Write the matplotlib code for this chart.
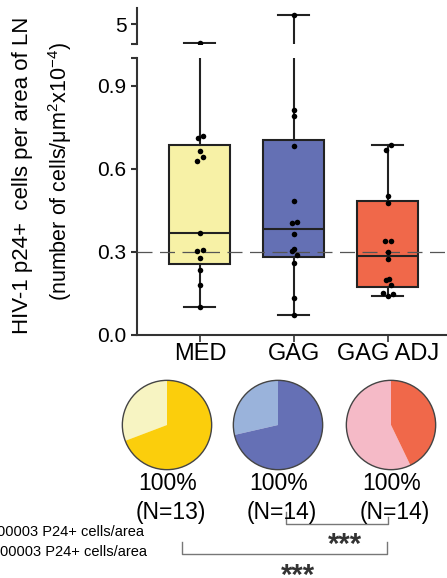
import matplotlib
matplotlib.use("Agg")
import matplotlib.pyplot as plt
from matplotlib.patches import Circle

plt.rcParams['font.family'] = ['Liberation Sans', 'DejaVu Sans']
plt.rcParams['mathtext.fontset'] = 'custom'
plt.rcParams['mathtext.rm'] = 'Liberation Sans'
plt.rcParams['mathtext.it'] = 'Liberation Sans:italic'

# ---------------- data ----------------
categories = ["MED", "GAG", "GAG ADJ"]
med_vals = [3.1, 0.712, 0.720, 0.665, 0.643, 0.629, 0.370, 0.305, 0.307, 0.277, 0.235, 0.180, 0.100]
gag_vals = [5.9, 0.813, 0.791, 0.681, 0.485, 0.406, 0.407, 0.364, 0.305, 0.310, 0.288, 0.261, 0.134, 0.073]
adj_vals = [0.687, 0.669, 0.502, 0.478, 0.340, 0.339, 0.301, 0.275, 0.199, 0.202, 0.180, 0.151, 0.148, 0.141]
med_jitter = [0, -0.02, 0.03, 0, 0.03, -0.03, 0, -0.035, 0.035, 0, 0, 0, 0]
gag_jitter = [0, 0, 0, 0, 0, -0.025, 0.03, 0, -0.025, 0, 0.03, 0, 0, 0]
adj_jitter = [0.03, -0.02, 0, 0, -0.03, 0.03, 0, 0, -0.02, 0.01, 0.03, -0.05, 0.06, 0]

box_q1 = [0.257, 0.282, 0.175]
box_med = [0.370, 0.384, 0.287]
box_q3 = [0.687, 0.705, 0.482]
whis_lo = [0.100, 0.073, 0.141]
whis_hi = [3.1, 5.9, 0.687]
threshold = 0.3

pie_low = [4, 4, 8]
pie_high = [9, 10, 6]
pie_pct = ["100%", "100%", "100%"]
pie_n = ["(N=13)", "(N=14)", "(N=14)"]
legend_labels = ["< 0.00003 P24+ cells/area", "> 0.00003 P24+ cells/area"]
sig_label = "***"

box_colors = ["#F7F1A6", "#6470B4", "#F0684A"]
pie_light = ["#F7F4C2", "#9AB3DB", "#F5BAC7"]
pie_dark = ["#FBCE0C", "#6570B5", "#F0684A"]

# ---------------- figure ----------------
W, H = 447, 578
fig = plt.figure(figsize=(W / 100, H / 100), dpi=100)

def fx(px):
    return px / W

def fy(py):
    return 1 - py / H

ax_lo = fig.add_axes([fx(137), fy(335), 1 - fx(137), fy(58) - fy(335)])
ax_hi = fig.add_axes([fx(137), fy(44), 1 - fx(137), fy(8) - fy(44)])

positions = [1, 2, 3]
stats = []
for i, c in enumerate(categories):
    stats.append(dict(med=box_med[i], q1=box_q1[i], q3=box_q3[i],
                      whislo=whis_lo[i], whishi=whis_hi[i], fliers=[], label=c))

all_vals = [med_vals, gag_vals, adj_vals]
all_jit = [med_jitter, gag_jitter, adj_jitter]
spine_c = "#333333"

for ax in (ax_lo, ax_hi):
    bp = ax.bxp(stats, positions=positions, widths=0.65, patch_artist=True,
                showfliers=False,
                boxprops=dict(edgecolor="#222222", linewidth=1.5),
                medianprops=dict(color="#222222", linewidth=1.5),
                whiskerprops=dict(color="#222222", linewidth=1.5),
                capprops=dict(color="#222222", linewidth=1.5),
                capwidths=0.33)
    for patch, col in zip(bp['boxes'], box_colors):
        patch.set_facecolor(col)
        patch.set_zorder(2)
    ax.axhline(threshold, color="#555555", linewidth=0.9, dashes=(12, 6), zorder=3)
    for i, (vals, jit) in enumerate(zip(all_vals, all_jit)):
        xs = [positions[i] + j for j in jit]
        ax.scatter(xs, vals, s=16, color="black", zorder=5, linewidths=0)
    ax.set_xlim(0.33, 3.63)
    for s in ("top", "right"):
        ax.spines[s].set_visible(False)
    ax.spines["left"].set_color(spine_c)
    ax.spines["left"].set_linewidth(1.5)
    ax.tick_params(axis="y", labelsize=15, width=1.5, length=4, color=spine_c)

ax_lo.set_ylim(0, 1.0)
ax_lo.set_yticks([0.0, 0.3, 0.6, 0.9, 1.0])
ax_lo.set_yticklabels(["0.0", "0.3", "0.6", "0.9", ""])
ax_lo.spines["bottom"].set_color(spine_c)
ax_lo.spines["bottom"].set_linewidth(1.5)
ax_lo.set_xticks(positions)
ax_lo.set_xticklabels(categories)
ax_lo.tick_params(axis="x", labelsize=17, width=1.2, length=5, color=spine_c, pad=1)

ax_hi.set_ylim(3.0, 6.6)
ax_hi.set_yticks([3.0, 5.0])
ax_hi.set_yticklabels(["", "5"])
ax_hi.spines["bottom"].set_visible(False)
ax_hi.set_xticks([])

# y label (two lines)
fig.text(fx(23), fy(175), "HIV-1 p24+  cells per area of LN", rotation=90,
         ha="center", va="center", fontsize=16)
fig.text(fx(60), fy(172), r"(number of cells/μm$^{2}$x10$^{-4}$)", rotation=90,
         ha="center", va="center", fontsize=15.5)

# ---------------- pies ----------------
pie_cx = [167, 278, 391]
pie_cy = 425
r = 46
for i in range(3):
    pax = fig.add_axes([fx(pie_cx[i] - r), fy(pie_cy + r), 2 * r / W, 2 * r / H])
    pax.pie([pie_low[i], pie_high[i]], colors=[pie_light[i], pie_dark[i]],
            startangle=90, counterclock=True, radius=1,
            wedgeprops=dict(edgecolor="none", linewidth=0))
    pax.add_patch(Circle((0, 0), 1, fill=False, edgecolor="#444444", linewidth=1.0))
    pax.set_xlim(-1.03, 1.03)
    pax.set_ylim(-1.03, 1.03)
    pax.set_aspect("equal")
    pax.axis("off")
    fig.text(fx(pie_cx[i] + 1), fy(484), pie_pct[i], ha="center", va="center", fontsize=16.5)
    fig.text(fx(pie_cx[i] + 4), fy(512), pie_n[i], ha="center", va="center", fontsize=16.5)

# legend text (cut off at left edge, as in the reference)
fig.text(fx(144), fy(532), legend_labels[0], ha="right", va="center", fontsize=10.5)
fig.text(fx(147), fy(552), legend_labels[1], ha="right", va="center", fontsize=10.5)

# significance brackets (overlay in pixel coordinates)
ov = fig.add_axes([0, 0, 1, 1])
ov.set_xlim(0, W)
ov.set_ylim(H, 0)
ov.axis("off")
ov.patch.set_alpha(0)
bc = "#777777"
ov.plot([286, 286, 388, 388], [512, 524, 524, 517], color=bc, linewidth=1.0)
ov.text(345, 553, sig_label, ha="center", va="baseline", fontsize=21,
        fontweight="bold", color="#333333")
ov.plot([182, 182, 387, 387], [542, 554, 554, 542], color=bc, linewidth=1.0)
ov.text(298, 584, sig_label, ha="center", va="baseline", fontsize=21,
        fontweight="bold", color="#333333")

fig.savefig("out.png", dpi=100)
